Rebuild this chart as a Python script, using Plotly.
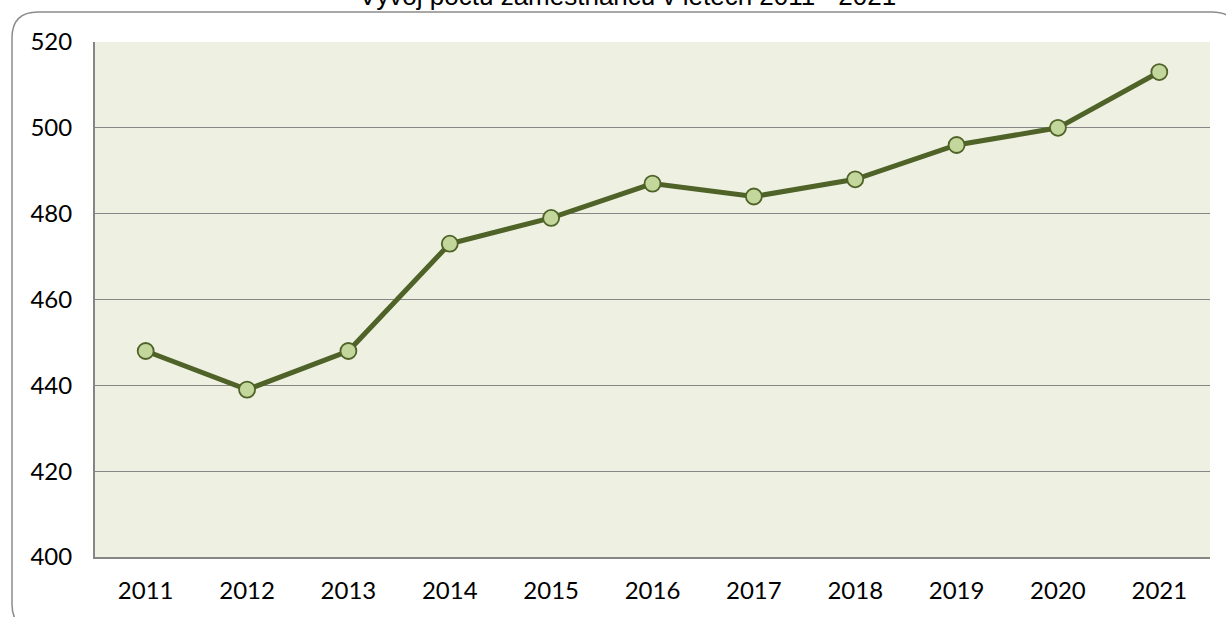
import plotly.graph_objects as go

roky = ['2011', '2012', '2013', '2014', '2015', '2016', '2017', '2018', '2019', '2020', '2021']
zamestnanci = [448, 439, 448, 473, 479, 487, 484, 488, 496, 500, 513]
titulek = 'Vývoj počtu zaměstnanců v letech 2011 - 2021'

W, H = 1226, 617
L, R, T, B = 95, 16, 42, 60
pw, ph = W - L - R, H - T - B


def px2paper(x, y):
    return (x - L) / pw, (H - B - y) / ph


def zaobleny_ramecek(x0, y0, x1, y1, r):
    # rounded rectangle path in paper coords
    def p(x, y):
        a, b = px2paper(x, y)
        return '%.5f,%.5f' % (a, b)
    s = 'M ' + p(x0 + r, y0)
    s += ' L ' + p(x1 - r, y0) + ' Q ' + p(x1, y0) + ' ' + p(x1, y0 + r)
    s += ' L ' + p(x1, y1 - r) + ' Q ' + p(x1, y1) + ' ' + p(x1 - r, y1)
    s += ' L ' + p(x0 + r, y1) + ' Q ' + p(x0, y1) + ' ' + p(x0, y1 - r)
    s += ' L ' + p(x0, y0 + r) + ' Q ' + p(x0, y0) + ' ' + p(x0 + r, y0) + ' Z'
    return s


fig = go.Figure()
fig.add_trace(go.Scatter(x=roky, y=zamestnanci, mode='lines+markers',
                         line={'color': '#4F6228', 'width': 5},
                         marker={'size': 16, 'color': '#C3D69B',
                                 'line': {'color': '#4F6228', 'width': 1.8}},
                         hoverinfo='x+y'))

fig.add_shape(type='path', xref='paper', yref='paper', layer='below',
              path=zaobleny_ramecek(12, 12, 1238, 630, 26),
              line={'color': '#8C8C8C', 'width': 1.5})

fig.add_annotation(text=titulek, xref='paper', yref='paper',
                   x=px2paper(627, 0)[0], y=px2paper(0, 13)[1],
                   xanchor='center', yanchor='bottom', showarrow=False,
                   font={'family': 'Liberation Sans, Arial', 'size': 26, 'color': 'black'})

pismo = {'family': 'Lato, Carlito, sans-serif', 'size': 24, 'color': 'black'}
fig.update_xaxes(type='category', range=[-0.5, 10.5], showgrid=False,
                 showline=True, linecolor='#868686', linewidth=2,
                 ticks='', ticklabelstandoff=11, tickfont=pismo)
fig.update_yaxes(range=[400, 520], dtick=20, showgrid=True, gridcolor='#868686', gridwidth=1.2,
                 showline=True, linecolor='#868686', linewidth=2, zeroline=False,
                 ticks='', ticklabelstandoff=16, tickfont=pismo)

fig.update_layout(width=W, height=H, margin=dict(l=L, r=R, t=T, b=B),
                  paper_bgcolor='white', plot_bgcolor='#EEF1E2',
                  showlegend=False)

# stranka bez okraju, aby graf zacinal v rohu okna
fig.write_html('out.html', config={'displayModeBar': False},
               post_script="document.body.style.margin='0';")
